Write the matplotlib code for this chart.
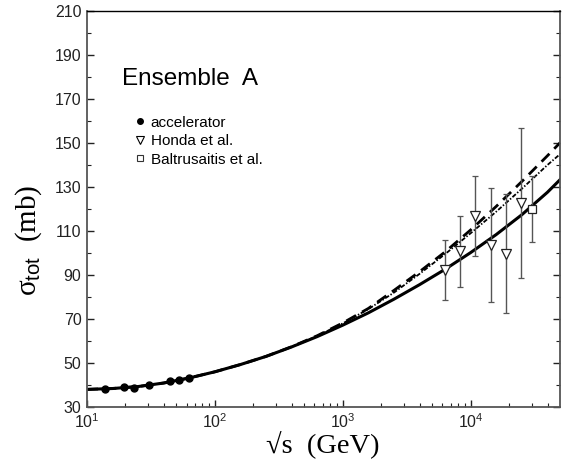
import matplotlib
matplotlib.use('Agg')
import matplotlib.pyplot as plt
from matplotlib.lines import Line2D
from matplotlib.ticker import FixedLocator, NullFormatter
import numpy as np

plt.rcParams['font.family'] = 'Liberation Sans'
plt.rcParams['mathtext.fontset'] = 'custom'
plt.rcParams['mathtext.rm'] = 'Liberation Sans'
plt.rcParams['mathtext.it'] = 'Liberation Sans:italic'

# accelerator data
acc_sqrt_s = [13.8, 19.4, 23.5, 30.6, 44.7, 52.8, 62.5]
acc_sigma = [38.3, 38.9, 38.8, 40.1, 41.6, 42.4, 43.1]

# Honda et al. (cosmic rays)
honda_sqrt_s = [6300, 8200, 10900, 14300, 18800, 24900]
honda_sigma = [92.3, 101.0, 116.8, 103.6, 99.5, 122.9]
honda_lo = [78.6, 84.7, 98.6, 77.6, 72.6, 88.8]
honda_hi = [105.9, 116.7, 135.0, 129.7, 126.7, 156.8]

# Baltrusaitis et al.
balt_sqrt_s = [30000]
balt_sigma = [120.0]
balt_err = [15.0]

# fitted curves at log10(sqrt s)
curve_log = [1.0, 1.2, 1.4, 1.6, 1.8, 2.0, 2.2, 2.4, 2.6, 2.8, 3.0,
             3.2, 3.4, 3.6, 3.8, 4.0, 4.2, 4.4, 4.6, 4.7]
curve_solid = [38.0, 38.4, 39.3, 40.9, 43.2, 46.0, 49.3, 53.0, 57.3, 62.0, 67.2,
               72.8, 79.0, 85.6, 92.6, 100.2, 108.4, 117.4, 127.6, 133.4]
curve_dashed = [38.0, 38.4, 39.3, 40.9, 43.2, 46.0, 49.3, 53.0, 57.4, 62.4, 68.2,
                74.8, 83.0, 91.5, 100.5, 110.5, 121.2, 132.5, 144.2, 150.2]
curve_dotted = [38.0, 38.4, 39.3, 40.9, 43.2, 46.0, 49.3, 53.0, 57.4, 62.3, 68.0,
                74.5, 82.0, 90.5, 99.5, 109.0, 118.8, 129.2, 140.0, 145.0]

fig = plt.figure(figsize=(5.67, 4.59), dpi=100)
ax = fig.add_axes([0.1534, 0.1133, 0.8334, 0.8627])

xc = 10 ** np.array(curve_log)
ax.plot(xc, curve_dashed, color='black', lw=2.0, ls=(0, (4, 2.5)))
ax.plot(xc, curve_dotted, color='black', lw=1.3, ls=(0, (2.5, 1, 0.8, 1)))
ax.plot(xc, curve_solid, color='black', lw=2.2)

ax.plot(acc_sqrt_s, acc_sigma, 'o', color='black', ms=5)

honda_err = [np.array(honda_sigma) - np.array(honda_lo),
             np.array(honda_hi) - np.array(honda_sigma)]
ax.errorbar(honda_sqrt_s, honda_sigma, yerr=honda_err, fmt='v', mfc='white',
            mec='#222222', ms=7.5, mew=0.9, ecolor='#555555', elinewidth=1.0,
            capsize=2.2, capthick=1.0)
ax.errorbar(balt_sqrt_s, balt_sigma, yerr=balt_err, fmt='s', mfc='white',
            mec='#222222', ms=5.5, mew=0.9, ecolor='#555555', elinewidth=1.0,
            capsize=2.2, capthick=1.0)

ax.set_xscale('log')
ax.set_xlim(10, 49500)
ax.set_ylim(30, 210)

ax.xaxis.set_major_locator(FixedLocator([10, 100, 1000, 10000]))
ax.set_xticklabels(['$10^1$', '$10^2$', '$10^3$', '$10^4$'])
minors = [m * 10 ** e for e in range(1, 5) for m in range(2, 10)]
ax.xaxis.set_minor_locator(FixedLocator(minors))
ax.xaxis.set_minor_formatter(NullFormatter())
ax.set_yticks(np.arange(30, 211, 20))
ax.set_yticks(np.arange(40, 210, 20), minor=True)

ax.tick_params(which='both', direction='in', top=False, right=True,
               labelsize=11.5, colors='#222222', pad=4)
ax.tick_params(which='major', length=5, width=1.0)
ax.tick_params(which='minor', length=3, width=0.8)
for side in ['left', 'bottom', 'right']:
    ax.spines[side].set_color('#555555')
    ax.spines[side].set_linewidth(1.3)
ax.spines['top'].set_color('black')
ax.spines['top'].set_linewidth(1.0)

ax.set_xlabel('\u221as  (GeV)', family='Liberation Serif', fontsize=20.5, labelpad=-0.5)
ax.set_ylabel('\u03c3$_{\\rm tot}$  (mb)', family='Liberation Serif', fontsize=21)
ax.yaxis.set_label_coords(-0.09, 0.42)

ax.text(0.075, 0.813, 'Ensemble  A', transform=ax.transAxes, fontsize=17.5,
        va='baseline')

handles = [
    Line2D([], [], ls='', marker='o', color='black', ms=4),
    Line2D([], [], ls='', marker='v', mfc='white', mec='black', ms=5.5, mew=0.8),
    Line2D([], [], ls='', marker='s', mfc='white', mec='#333333', ms=4.5, mew=0.8),
]
ax.legend(handles, ['accelerator', 'Honda et al.', 'Baltrusaitis et al.'],
          loc='upper left', bbox_to_anchor=(0.08, 0.763), frameon=False,
          fontsize=11, handlelength=0.6, handletextpad=0.4, labelspacing=0.3,
          borderpad=0.2)

fig.savefig('out.png', dpi=100)
